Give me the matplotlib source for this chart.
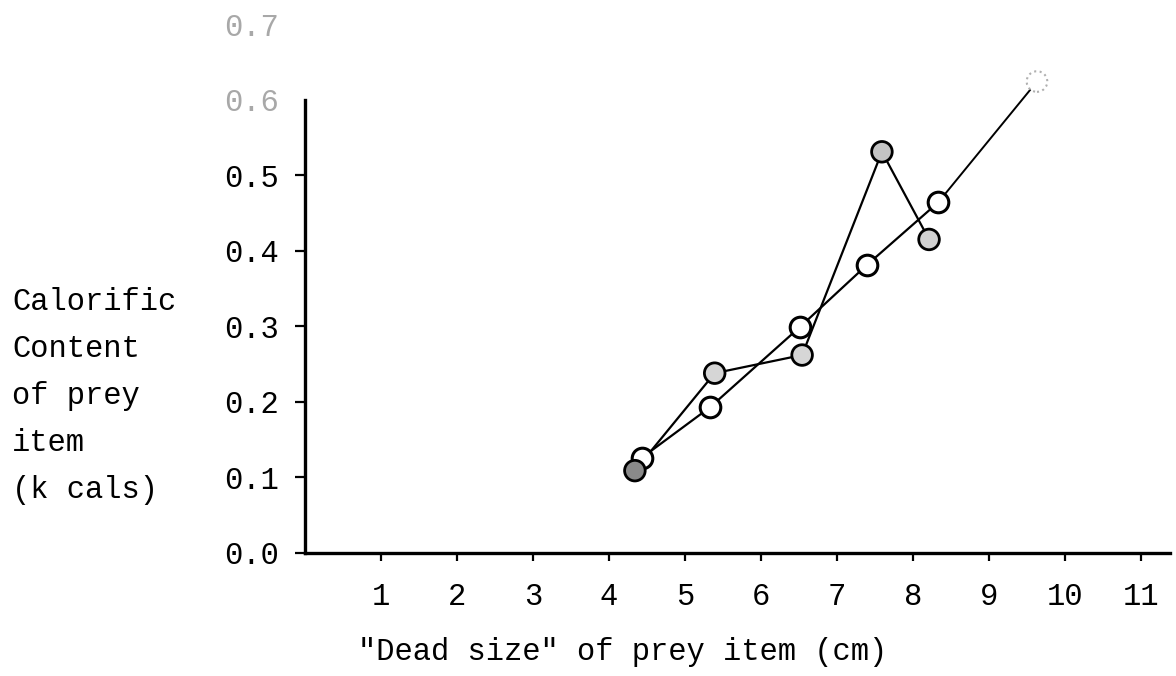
import matplotlib.pyplot as plt

# dead size (cm) vs calorific content (k cals)
open_x = [4.43, 5.33, 6.51, 7.39, 8.33, 9.63]
open_y = [0.126, 0.193, 0.299, 0.381, 0.464, 0.624]
filled_x = [4.34, 5.39, 6.54, 7.59, 8.21]
filled_y = [0.109, 0.238, 0.262, 0.531, 0.415]
filled_shade = ['#8a8a8a', '#d6d6d6', '#d6d6d6', '#c4c4c4', '#d0d0d0']

x_ticks = list(range(1, 12))
y_ticks = [0.0, 0.1, 0.2, 0.3, 0.4, 0.5, 0.6, 0.7]
y_tick_labels = ['0.0', '0.1', '0.2', '0.3', '0.4', '0.5', '0.6', '0.7']
ylabel_lines = ['Calorific', 'Content', 'of prey', 'item', '(k cals)']
xlabel = '"Dead size" of prey item (cm)'

mono = 'Liberation Mono'
W, H = 1176, 676

fig = plt.figure(figsize=(W / 100, H / 100), dpi=100)
ax = fig.add_axes([305 / W, 123 / H, 865 / W, 544 / H])
ax.set_xlim(0, 11.38)
ax.set_ylim(0, 0.72)

# joined open circles
ax.plot(open_x[:-1], open_y[:-1], color='black', lw=1.6, zorder=2)
ax.plot(open_x[-2:], open_y[-2:], color='black', lw=1.4, zorder=2)
ax.scatter(open_x[:-1], open_y[:-1], s=220, facecolor='white',
           edgecolor='black', linewidth=2.2, zorder=3)
ax.scatter(open_x[-1:], open_y[-1:], s=220, facecolor='white',
           edgecolor='#b0b0b0', linewidth=1.5, linestyle=':', zorder=3)

# joined shaded circles
ax.plot(filled_x, filled_y, color='black', lw=1.6, zorder=2)
ax.scatter(filled_x, filled_y, s=220, c=filled_shade,
           edgecolor='black', linewidth=2.0, zorder=4)

for side in ('top', 'right'):
    ax.spines[side].set_visible(False)
ax.spines['left'].set_bounds(0, 0.6)
ax.spines['left'].set_linewidth(2.4)
ax.spines['bottom'].set_linewidth(2.4)

ax.set_xticks(x_ticks)
ax.set_xticklabels([str(t) for t in x_ticks], fontfamily=mono, fontsize=22)
ax.set_yticks(y_ticks)
ax.set_yticklabels(y_tick_labels, fontfamily=mono, fontsize=22)
for lab in ax.get_yticklabels()[-2:]:
    lab.set_color('#a8a8a8')
ax.tick_params(axis='x', direction='out', length=6, width=1.6, pad=15)
ax.tick_params(axis='y', direction='out', length=7, width=1.6, pad=12)
ax.yaxis.get_major_ticks()[-1].tick1line.set_visible(False)
ax.yaxis.get_major_ticks()[-2].tick1line.set_visible(False)

for i, line in enumerate(ylabel_lines):
    fig.text(12 / W, 1 - (302 + 47 * i) / H, line, fontfamily=mono,
             fontsize=22, ha='left', va='center')
fig.text(358 / W, 1 - 652 / H, xlabel, fontfamily=mono, fontsize=22,
         ha='left', va='center')

fig.savefig('out.png', dpi=100)
